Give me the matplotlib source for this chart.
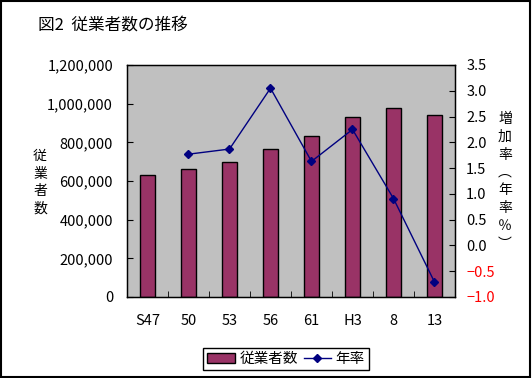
import numpy as np
import matplotlib.pyplot as plt
from matplotlib.ticker import FuncFormatter, MultipleLocator
from matplotlib.patches import Rectangle

plt.rcParams['font.family'] = ['Noto Sans CJK JP', 'DejaVu Sans']

# data
years = ['S47', '50', '53', '56', '61', 'H3', '8', '13']
workers = [630000, 661000, 697000, 764000, 831000, 929000, 976000, 940000]
rate = [np.nan, 1.77, 1.87, 3.05, 1.63, 2.25, 0.91, -0.71]

fig = plt.figure(figsize=(5.32, 3.78), dpi=100)
fig.patches.append(Rectangle((0.002, 0.003), 0.995, 0.994, transform=fig.transFigure,
                             fill=False, edgecolor='black', linewidth=1.5))

ax = fig.add_axes([127/532, 1-297/378, 328/532, 232/378])
ax.set_facecolor('#c0c0c0')
x = np.arange(len(years))
bars = ax.bar(x, workers, width=0.37, color='#993366', edgecolor='black',
              linewidth=1, label='従業者数', zorder=2)
ax.set_xlim(-0.5, len(years) - 0.5)
ax.set_ylim(0, 1200000)
ax.yaxis.set_major_locator(MultipleLocator(200000))
ax.yaxis.set_major_formatter(FuncFormatter(lambda v, p: f'{int(v):,}'))
ax.set_xticks(x)
ax.set_xticklabels(years)
ax.set_xticks(x[:-1] + 0.5, minor=True)
ax.tick_params(axis='x', which='major', length=0, pad=12, labelsize=10.5)
ax.tick_params(axis='x', which='minor', direction='in', length=4)
ax.tick_params(axis='y', direction='in', length=4, pad=10, labelsize=10.5)
for s in ax.spines.values():
    s.set_color('black')
    s.set_linewidth(1)

ax2 = ax.twinx()
line, = ax2.plot(x, rate, color='#000080', linewidth=1, marker='D', markersize=4,
                 label='年率', zorder=3)
ax2.set_ylim(-1.0, 3.5)
ax2.yaxis.set_major_locator(MultipleLocator(0.5))
ax2.yaxis.set_major_formatter(FuncFormatter(lambda v, p: f'{v:.1f}'.replace('-', '\u2212')))
ax2.tick_params(axis='y', direction='in', length=4, pad=8, labelsize=10.5)
for lab, v in zip(ax2.get_yticklabels(), ax2.get_yticks()):
    if v < 0:
        lab.set_color('red')

fig.text(38/532, 1-25/378, '図2  従業者数の推移', fontsize=12, va='center', ha='left')

# vertical (stacked) axis titles, one character per row
def stacked(s, xpx, ypx0, step):
    for i, ch in enumerate(s):
        fig.text(xpx/532, 1-(ypx0 + i*step)/378, ch, fontsize=10,
                 va='center', ha='center')

stacked('従業者数', 40, 156, 17.5)
stacked('増加率︵年率％︶', 505, 119, 17.8)

leg = fig.legend([bars, line], ['従業者数', '年率'], loc='center',
                 bbox_to_anchor=(286/532, 1-359/378), ncol=2, frameon=True,
                 fancybox=False, edgecolor='black', framealpha=1, fontsize=10.5,
                 handlelength=1.9, handletextpad=0.3, columnspacing=0.4,
                 borderpad=0.25, borderaxespad=0)
leg.get_frame().set_linewidth(1)

fig.savefig('out.png', dpi=100)
